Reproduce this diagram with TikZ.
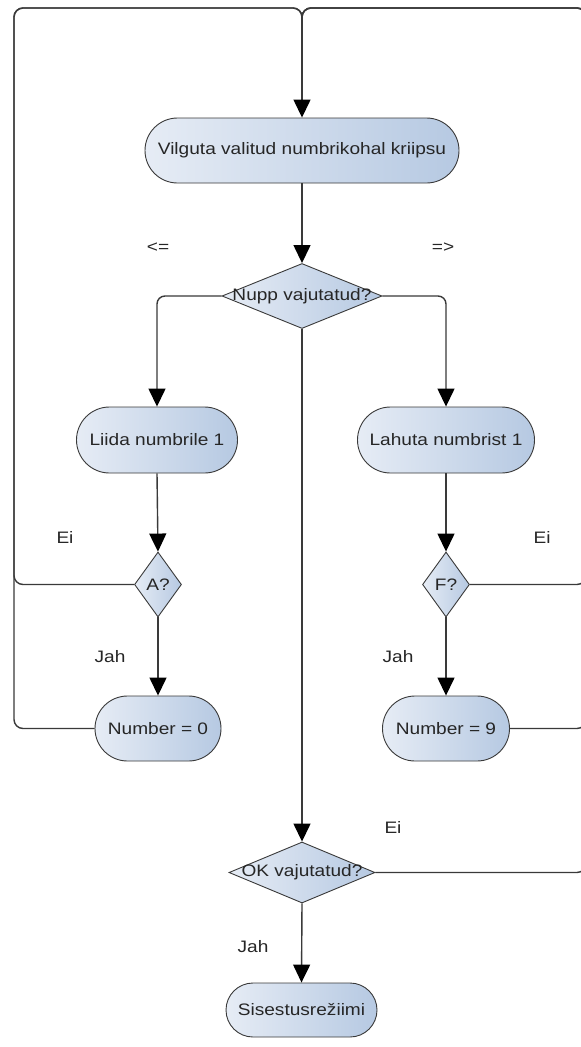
\documentclass[tikz,border=0pt]{standalone}
\usepackage{fontspec}
\setmainfont{Liberation Sans}[FakeStretch=1.15]
\usetikzlibrary{shapes.geometric,shapes.misc,arrows.meta}
\definecolor{edgegray}{HTML}{3A3A3A}
\definecolor{shadeL}{HTML}{E6ECF5}
\definecolor{shadeR}{HTML}{B6C9E2}
\begin{document}
\begin{tikzpicture}[x=1pt,y=-1pt,
  every node/.style={font=\fontsize{16.6}{19}\selectfont, text=black!85},
  act/.style={rounded rectangle, draw=edgegray, line width=0.9pt,
    left color=shadeL, right color=shadeR, inner sep=0pt},
  dec/.style={diamond, draw=edgegray, line width=0.9pt,
    left color=shadeL, right color=shadeR, inner sep=0pt},
  flow/.style={draw=edgegray, line width=1.4pt, rounded corners=8pt,
    -{Triangle[length=18pt,width=17pt,color=black]}},
  loopline/.style={draw=edgegray, line width=1.4pt, rounded corners=9pt},
  lbl/.style={inner sep=0pt}]
\useasboundingbox (0,0) rectangle (581,1047);
\fill[white] (0,0) rectangle (581,1047);
\clip (0,0) rectangle (581,1047);

% loop-back rails
\coordinate (L) at (14,8);
\coordinate (R) at (586,8);
\coordinate (T) at (302,8);

% activities
\node[act, minimum width=314pt, minimum height=65pt] (vil) at (302,150.5) {Vilguta valitud numbrikohal kriipsu};
\node[act, minimum width=161pt, minimum height=66pt] (liida) at (157,440) {Liida numbrile 1};
\node[act, minimum width=177pt, minimum height=66pt] (lahuta) at (446,440) {Lahuta numbrist 1};
\node[act, minimum width=126pt, minimum height=65pt] (n0) at (158,728.5) {Number = 0};
\node[act, minimum width=127pt, minimum height=65pt] (n9) at (446,728.5) {Number = 9};
\node[act, minimum width=151pt, minimum height=54pt] (sis) at (301.5,1010) {Sisestusrežiimi};

% decisions
\node[dec, minimum width=160pt, minimum height=65pt] (nupp) at (302,296) {};
\node[lbl] (nupptxt) at (nupp) {Nupp vajutatud?};
\node[dec, minimum width=47pt, minimum height=65pt] (a) at (158,584.5) {};
\node[lbl] (atxt) at (a) {A?};
\node[dec, minimum width=47pt, minimum height=65pt] (f) at (446,584.5) {};
\node[lbl] (ftxt) at (f) {F?};
\node[dec, minimum width=146pt, minimum height=61pt] (ok) at (302,872.5) {};
\node[lbl] (oktxt) at (ok) {OK vajutatud?};

% labels
\node[lbl] (lt) at (158,248) {<=};
\node[lbl] (gt) at (443,248) {=>};
\node[lbl] (eiA) at (65,537) {Ei};
\node[lbl] (jahA) at (110,657) {Jah};
\node[lbl] (eiF) at (542,537) {Ei};
\node[lbl] (jahF) at (398,657) {Jah};
\node[lbl] (eiOK) at (393,827) {Ei};
\node[lbl] (jahOK) at (253,947) {Jah};

% main flow
\draw[flow] (vil.south) -- (nupp.north);
\draw[flow] (nupp.west) -| (liida.north);
\draw[flow] (nupp.east) -| (lahuta.north);
\draw[flow] (liida.south) -- (a.north);
\draw[flow] (a.south) -- (n0.north);
\draw[flow] (lahuta.south) -- (f.north);
\draw[flow] (f.south) -- (n9.north);
\draw[flow] (nupp.south) -- (ok.north);
\draw[flow] (ok.south) -- (sis.north);

% returns to the blinking step
\draw[loopline] (a.west) -- (L |- a.west) -- (L) -- (T) -- (302,20);
\draw[loopline] (n0.west) -- (L |- n0.west) -- (L) -- (T) -- (302,20);
\draw[loopline] (f.east) -- (R |- f.east) -- (R) -- (T) -- (302,20);
\draw[loopline] (n9.east) -- (R |- n9.east) -- (R) -- (T) -- (302,20);
\draw[loopline] (ok.east) -- (R |- ok.east) -- (R) -- (T) -- (302,20);
\draw[flow] (302,18) -- (vil.north);
\end{tikzpicture}
\end{document}
